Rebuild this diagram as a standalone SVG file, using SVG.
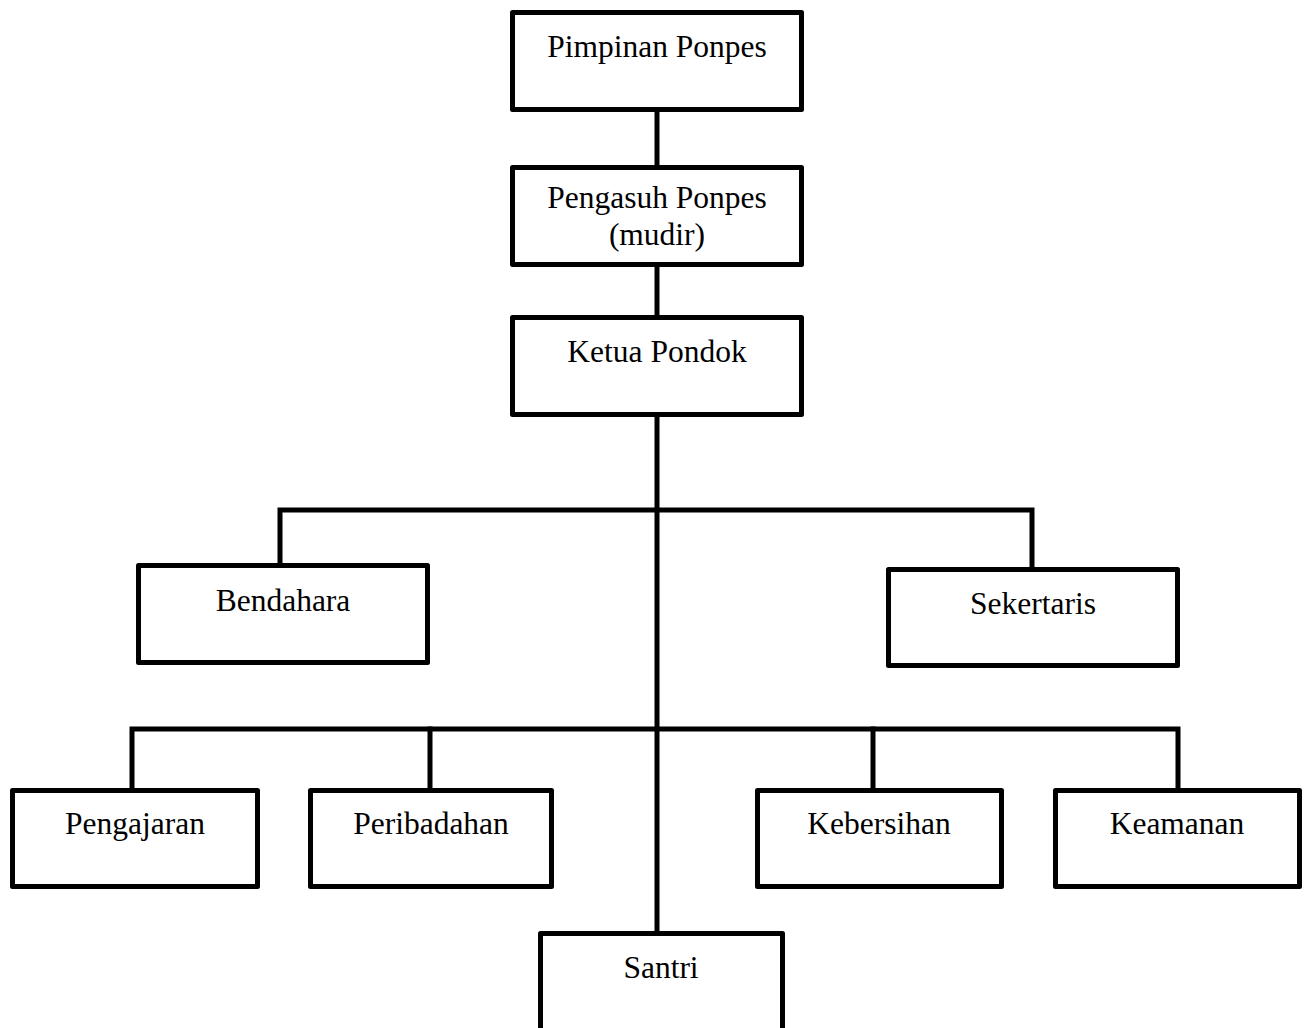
<svg xmlns="http://www.w3.org/2000/svg" width="1310" height="1028" viewBox="0 0 1310 1028">
<style>
.box{fill:#fff;stroke:#000;stroke-width:5;stroke-linejoin:round}
.lbl{font-family:"Liberation Serif","Times New Roman",serif;font-size:31.5px;fill:#000;text-anchor:middle}
.conn{stroke:#000;stroke-width:5;fill:none;stroke-linecap:square}
</style>
<rect width="1310" height="1028" fill="#fff"/>
<g id="connectors">
<line class="conn" x1="657" y1="112" x2="657" y2="167"/>
<line class="conn" x1="657" y1="267" x2="657" y2="317"/>
<line class="conn" x1="657" y1="417" x2="657" y2="933"/>
<polyline class="conn" points="280,565 280,510 1032,510 1032,569"/>
<polyline class="conn" points="132,790 132,729 1178,729 1178,790"/>
<line class="conn" x1="430" y1="729" x2="430" y2="790"/>
<line class="conn" x1="873" y1="729" x2="873" y2="790"/>
</g>
<g id="pimpinan"><rect class="box" x="512.5" y="12.5" width="289" height="97"/><text class="lbl" x="657" y="57">Pimpinan Ponpes</text></g>
<g id="pengasuh"><rect class="box" x="512.5" y="167.5" width="289" height="97"/><text class="lbl" x="657" y="208">Pengasuh Ponpes</text><text class="lbl" x="657" y="245">(mudir)</text></g>
<g id="ketua"><rect class="box" x="512.5" y="317.5" width="289" height="97"/><text class="lbl" x="657" y="362">Ketua Pondok</text></g>
<g id="bendahara"><rect class="box" x="138.5" y="565.5" width="289" height="97"/><text class="lbl" x="283" y="611">Bendahara</text></g>
<g id="sekertaris"><rect class="box" x="888.5" y="569.5" width="289" height="96"/><text class="lbl" x="1033" y="614">Sekertaris</text></g>
<g id="pengajaran"><rect class="box" x="12.5" y="790.5" width="245" height="96"/><text class="lbl" x="135" y="834">Pengajaran</text></g>
<g id="peribadahan"><rect class="box" x="310.5" y="790.5" width="241" height="96"/><text class="lbl" x="431" y="834">Peribadahan</text></g>
<g id="kebersihan"><rect class="box" x="757.5" y="790.5" width="244" height="96"/><text class="lbl" x="879" y="834">Kebersihan</text></g>
<g id="keamanan"><rect class="box" x="1055.5" y="790.5" width="244" height="96"/><text class="lbl" x="1177" y="834">Keamanan</text></g>
<g id="santri"><rect class="box" x="540.5" y="933.5" width="242" height="110"/><text class="lbl" x="661" y="978">Santri</text></g>
</svg>
